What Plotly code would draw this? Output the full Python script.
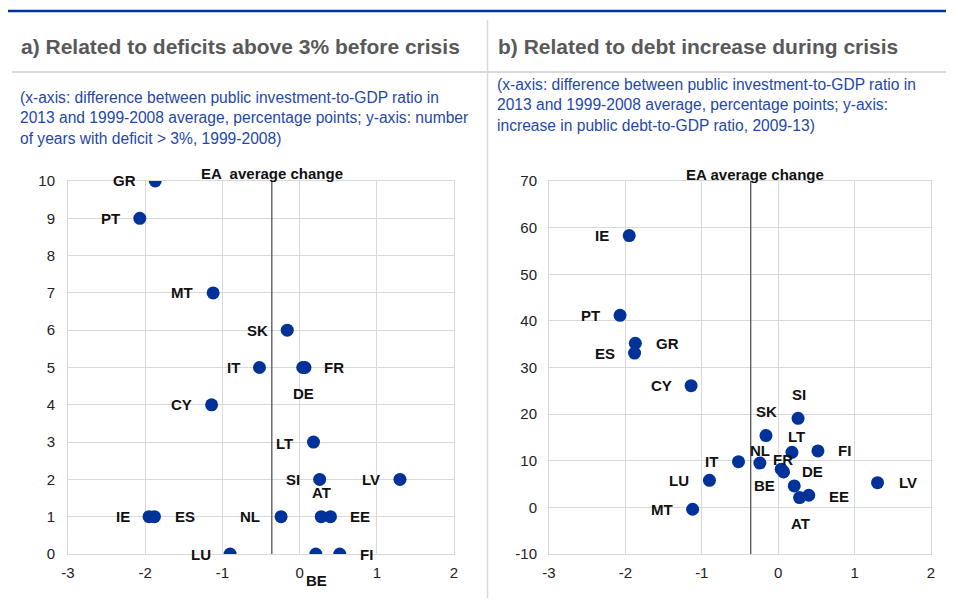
import plotly.graph_objects as go

countries = ["BE", "DE", "EE", "IE", "GR", "ES", "FR", "IT", "CY", "LV",
             "LT", "LU", "MT", "NL", "AT", "PT", "SI", "SK", "FI"]
invest_change = [0.21, 0.07, 0.40, -1.95, -1.87, -1.88, 0.04, -0.52, -1.14, 1.30,
                 0.18, -0.90, -1.12, -0.24, 0.28, -2.07, 0.26, -0.16, 0.52]
deficit_years = [0, 5, 1, 1, 10, 1, 5, 5, 4, 2,
                 3, 0, 7, 1, 1, 9, 2, 6, 0]
debt_increase = [4.6, 7.6, 2.6, 58.3, 35.2, 33.1, 8.2, 9.8, 26.1, 5.3,
                 11.8, 5.8, -0.4, 9.5, 2.1, 41.2, 19.1, 15.4, 12.1]
ea_average = -0.36

x_ticks = [-3, -2, -1, 0, 1, 2]
x_tick_labels = ["-3", "-2", "-1", "0", "1", "2"]
y_ticks_a = [0, 1, 2, 3, 4, 5, 6, 7, 8, 9, 10]
y_tick_labels_a = ["0", "1", "2", "3", "4", "5", "6", "7", "8", "9", "10"]
y_ticks_b = [-10, 0, 10, 20, 30, 40, 50, 60, 70]
y_tick_labels_b = ["-10", "0", "10", "20", "30", "40", "50", "60", "70"]

# label offsets in pixels (dx, dy) – styling only
offs_a = {"BE": (1, -26), "DE": (-2, -26), "EE": (30, 0), "IE": (-26, 0), "GR": (-31, 0),
          "ES": (31, 0), "FR": (31, 0), "IT": (-26, 0), "CY": (-30, 0), "LV": (-29, 0),
          "LT": (-29, -1), "LU": (-29, 0), "MT": (-31, 0), "NL": (-31, 0), "AT": (0, 24),
          "PT": (-29, 0), "SI": (-27, 0), "SK": (-30, 0), "FI": (27, 0)}
offs_b = {"BE": (-30, 0), "DE": (29, 0), "EE": (30, -1), "IE": (-27, 0), "GR": (32, 0),
          "ES": (-30, 0), "FR": (2, 10), "IT": (-27, 0), "CY": (-30, 0), "LV": (30, 0),
          "LT": (5, 16), "LU": (-30, 0), "MT": (-31, 0), "NL": (0, 13), "AT": (1, -26),
          "PT": (-30, 0), "SI": (1, 24), "SK": (1, 24), "FI": (27, 0)}

BLUE = "#003299"
GRID = "#d9d9d9"
FONT = "Liberation Sans, Arial, sans-serif"

fig = go.Figure()
fig.add_trace(go.Scatter(x=invest_change, y=deficit_years, mode="markers",
                         marker=dict(size=13, color=BLUE), xaxis="x", yaxis="y",
                         hoverinfo="text", text=countries, showlegend=False))
fig.add_trace(go.Scatter(x=invest_change, y=debt_increase, mode="markers",
                         marker=dict(size=13, color=BLUE), xaxis="x2", yaxis="y2",
                         hoverinfo="text", text=countries, showlegend=False))

# the page body has an 8px margin, so the figure is 16px smaller than the window
W, H = 938, 590
OFF = 8
def px(x):
    return (x - OFF) / W
def py(y):
    return 1 - (y - OFF) / H

ydom = [py(554), py(181)]
axis_common = dict(showgrid=True, gridcolor=GRID, gridwidth=1, zeroline=False,
                   showline=True, linecolor=GRID, linewidth=1, mirror=True,
                   ticks="outside", tickcolor="rgba(0,0,0,0)", automargin=False,
                   tickfont=dict(family=FONT, size=15, color="#222222"), fixedrange=True)

fig.update_layout(
    width=W, height=H, margin=dict(l=0, r=0, t=0, b=0),
    paper_bgcolor="white", plot_bgcolor="white",
    font=dict(family=FONT),
    xaxis=dict(domain=[px(68), px(454)], range=[-3, 2], tickvals=x_ticks,
               ticktext=x_tick_labels, ticklen=5, anchor="y", **axis_common),
    yaxis=dict(domain=ydom, range=[0, 10], tickvals=y_ticks_a, ticktext=y_tick_labels_a,
               ticklen=9, anchor="x", **axis_common),
    xaxis2=dict(domain=[px(549), px(931)], range=[-3, 2], tickvals=x_ticks,
                ticktext=x_tick_labels, ticklen=5, anchor="y2", **axis_common),
    yaxis2=dict(domain=ydom, range=[-10, 70], tickvals=y_ticks_b, ticktext=y_tick_labels_b,
                ticklen=8, anchor="x2", **axis_common),
)

shapes = [
    dict(type="line", xref="x", yref="y domain", x0=ea_average, x1=ea_average, y0=0, y1=1,
         line=dict(color="#555555", width=1.3)),
    dict(type="line", xref="x2", yref="y2 domain", x0=ea_average, x1=ea_average, y0=0, y1=1,
         line=dict(color="#555555", width=1.3)),
    # top blue rule
    dict(type="line", xref="paper", yref="paper", x0=px(8), x1=1, y0=py(11), y1=py(11),
         line=dict(color=BLUE, width=2.5)),
    # grey rule under titles
    dict(type="line", xref="paper", yref="paper", x0=px(12), x1=1, y0=py(72), y1=py(72),
         line=dict(color=GRID, width=2)),
    # vertical divider
    dict(type="line", xref="paper", yref="paper", x0=px(487.5), x1=px(487.5), y0=0, y1=py(20),
         line=dict(color=GRID, width=1.5)),
]
fig.update_layout(shapes=shapes)

LBL = dict(family=FONT, size=15, color="#111111")
ann = []
for c, x, y in zip(countries, invest_change, deficit_years):
    dx, dy = offs_a[c]
    ann.append(dict(x=x, y=y, xref="x", yref="y", text="<b>%s</b>" % c, showarrow=False,
                    xanchor="center", yanchor="middle", xshift=dx, yshift=dy, font=LBL))
for c, x, y in zip(countries, invest_change, debt_increase):
    dx, dy = offs_b[c]
    ann.append(dict(x=x, y=y, xref="x2", yref="y2", text="<b>%s</b>" % c, showarrow=False,
                    xanchor="center", yanchor="middle", xshift=dx, yshift=dy, font=LBL))

ann.append(dict(x=ea_average, y=1, xref="x", yref="y domain", text="<b>EA  average change</b>",
                showarrow=False, xanchor="center", yanchor="middle", yshift=7, font=LBL))
ann.append(dict(x=ea_average, y=1, xref="x2", yref="y2 domain", text="<b>EA average change</b>",
                showarrow=False, xanchor="center", yanchor="middle", xshift=4, yshift=6,
                font=LBL))

ann.append(dict(x=px(19), y=py(47), xref="paper", yref="paper", xanchor="left", yanchor="middle",
                text="<b>a) Related to deficits above 3% before crisis</b>", showarrow=False,
                font=dict(family=FONT, size=21, color="#595959")))
ann.append(dict(x=px(496), y=py(47), xref="paper", yref="paper", xanchor="left", yanchor="middle",
                text="<b>b) Related to debt increase during crisis</b>", showarrow=False,
                font=dict(family=FONT, size=21, color="#595959")))

SUB = dict(family=FONT, size=15.6, color="#1f48a8")
ann.append(dict(x=px(18), y=py(87), xref="paper", yref="paper", xanchor="left", yanchor="top",
                align="left", showarrow=False,
                text="(x-axis: difference between public investment-to-GDP ratio in<br>"
                     "2013 and 1999-2008 average, percentage points; y-axis: number<br>"
                     "of years with deficit &gt; 3%, 1999-2008)",
                font=SUB))
ann.append(dict(x=px(495), y=py(74), xref="paper", yref="paper", xanchor="left", yanchor="top",
                align="left", showarrow=False,
                text="(x-axis: difference between public investment-to-GDP ratio in<br>"
                     "2013 and 1999-2008 average, percentage points; y-axis:<br>"
                     "increase in public debt-to-GDP ratio, 2009-13)",
                font=SUB))

fig.update_layout(annotations=ann)
fig.write_html("out.html")
